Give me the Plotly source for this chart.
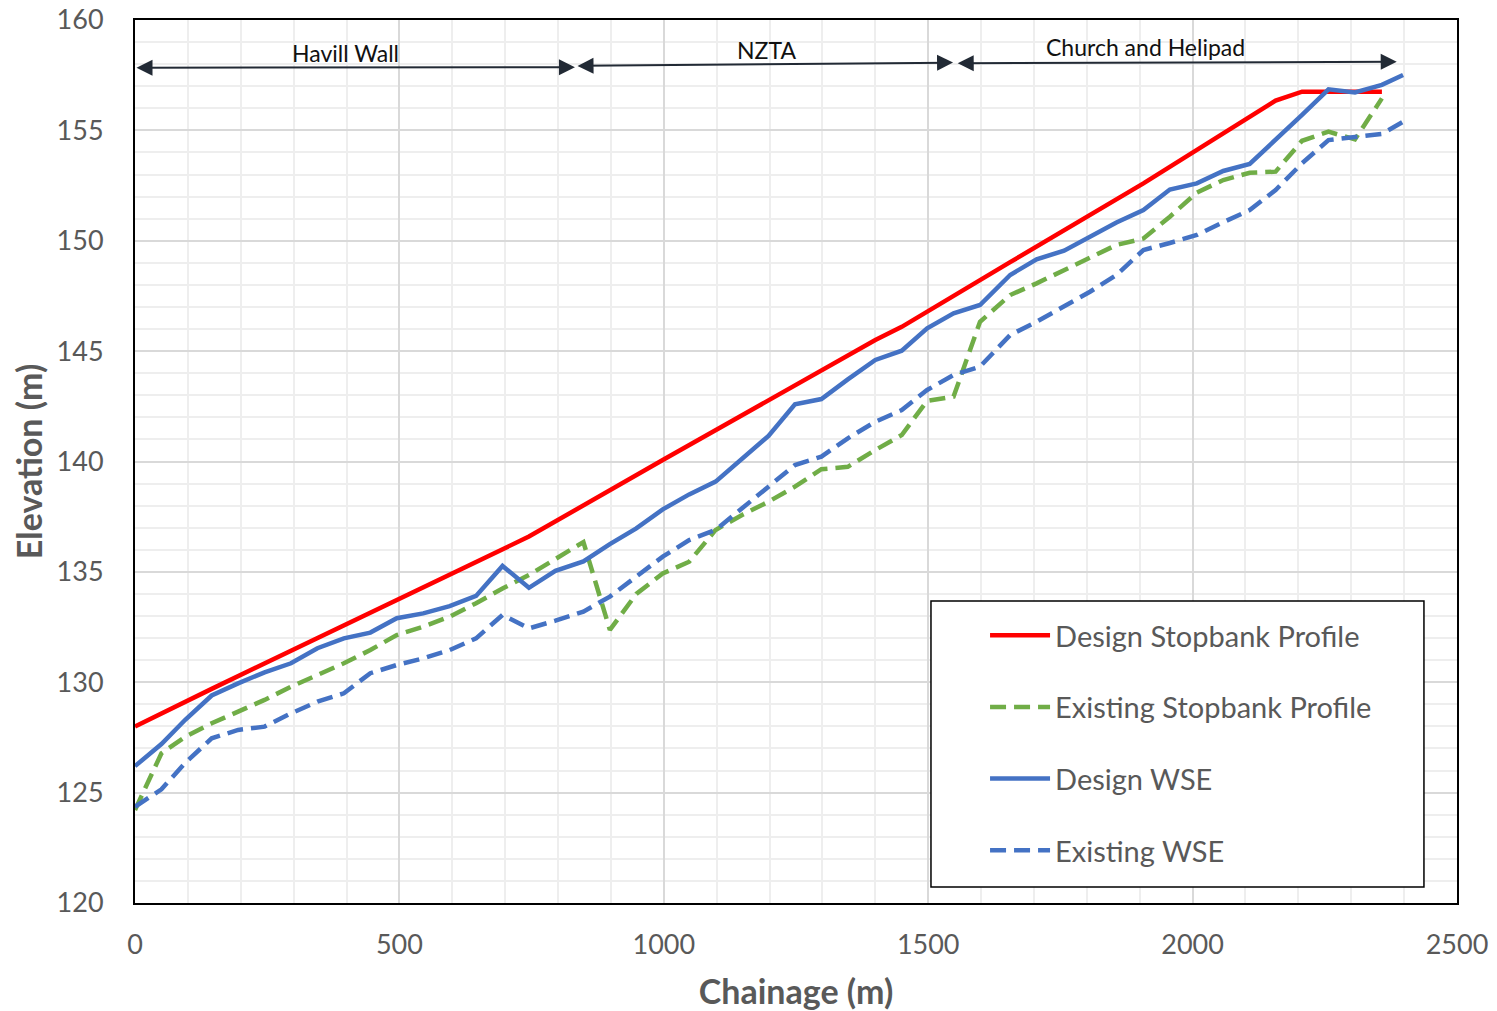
import plotly.graph_objects as go

# ---------------- data ----------------
chainage = [0, 50, 95, 145, 195, 245, 295, 345, 395, 445,
            495, 545, 595, 645, 695, 745, 795, 848, 898, 948,
            998, 1048, 1098, 1148, 1198, 1248, 1298, 1348, 1400, 1450,
            1498, 1548, 1598, 1655, 1705, 1757, 1806, 1856, 1907, 1957,
            2008, 2058, 2108, 2157, 2207, 2257, 2307, 2358, 2398]

design_wse = [126.2, 127.2, 128.3, 129.4, 129.95, 130.45, 130.86, 131.54, 131.99, 132.25,
              132.9, 133.12, 133.45, 133.91, 135.27, 134.28, 135.05, 135.47, 136.26, 136.97,
              137.83, 138.51, 139.09, 140.14, 141.16, 142.59, 142.83, 143.72, 144.6, 145.02,
              146.03, 146.71, 147.09, 148.45, 149.16, 149.55, 150.18, 150.83, 151.39, 152.32,
              152.6, 153.16, 153.48, 154.56, 155.7, 156.86, 156.72, 157.06, 157.51]

existing_stopbank = [124.21, 126.78, 127.53, 128.14, 128.67, 129.2, 129.8, 130.33, 130.86, 131.46,
                     132.14, 132.52, 132.97, 133.58, 134.25, 134.86, 135.61, 136.35, 132.37, 134.0,
                     134.93, 135.46, 136.9, 137.58, 138.18, 138.86, 139.65, 139.76, 140.52, 141.2,
                     142.75, 142.94, 146.33, 147.54, 148.07, 148.67, 149.2, 149.81, 150.1, 151.09,
                     152.18, 152.75, 153.08, 153.13, 154.53, 154.94, 154.59, 156.45, None]

existing_wse = [124.36, 125.15, 126.35, 127.46, 127.84, 127.99, 128.59, 129.12, 129.5, 130.41,
                130.78, 131.08, 131.46, 131.99, 133.05, 132.44, 132.79, 133.2, 133.88, 134.78,
                135.69, 136.44, 136.9, 137.88, 138.86, 139.84, 140.22, 141.05, 141.8, 142.33,
                143.24, 143.92, 144.3, 145.73, 146.33, 147.01, 147.69, 148.45, 149.58, 149.9,
                150.26, 150.84, 151.39, 152.3, 153.51, 154.56, 154.69, 154.84, 155.39]

design_stopbank_ch = [0, 145, 745, 998, 1400, 1450, 1655, 1907, 2157, 2207, 2358]
design_stopbank = [128.0, 129.7, 136.6, 140.07, 145.5, 146.1, 149.03, 152.6, 156.35, 156.75, 156.75]

zone_names = ["Havill Wall", "NZTA", "Church and Helipad"]
zone_start = [0, 834, 1553]
zone_end = [832, 1547, 2386]
zone_arrow_y0 = [157.84, 157.92, 158.04]
zone_arrow_y1 = [157.86, 158.07, 158.11]
zone_label_x = [399, 1195, 1910]
zone_label_y = [158.5, 158.64, 158.78]

# ---------------- styling ----------------
FONT = "Lato"
GREY = "#595959"
RED = "#FF0000"
GREEN = "#70AD47"
BLUE = "#4472C4"
ARROW = "#222A35"

fig = go.Figure()
fig.add_trace(go.Scatter(x=design_stopbank_ch, y=design_stopbank, mode="lines",
                         name="Design Stopbank Profile", legendgroup="a",
                         line=dict(color=RED, width=4.5)))
fig.add_trace(go.Scatter(x=chainage, y=existing_stopbank, mode="lines",
                         name="Existing Stopbank Profile", legendgroup="b",
                         line=dict(color=GREEN, width=4.5, dash="16px,8px")))
fig.add_trace(go.Scatter(x=chainage, y=design_wse, mode="lines",
                         name="Design WSE", legendgroup="c",
                         line=dict(color=BLUE, width=4.5)))
fig.add_trace(go.Scatter(x=chainage, y=existing_wse, mode="lines",
                         name="Existing WSE", legendgroup="d",
                         line=dict(color=BLUE, width=4.5, dash="16px,8px")))

annotations = []
for name, xs, xe, ys, ye, lx, ly in zip(zone_names, zone_start, zone_end,
                                         zone_arrow_y0, zone_arrow_y1,
                                         zone_label_x, zone_label_y):
    annotations.append(dict(x=xe, y=ye, ax=xs, ay=ys, xref="x", yref="y",
                            axref="x", ayref="y", text="", showarrow=True,
                            arrowhead=2, startarrowhead=2, arrowside="end+start",
                            arrowsize=1.6, startarrowsize=1.6, arrowwidth=2,
                            arrowcolor=ARROW, standoff=0, startstandoff=0))
    annotations.append(dict(x=lx, y=ly, xref="x", yref="y", text=name,
                            showarrow=False, font=dict(family=FONT, size=23, color="#111111")))

grid_minor = "#EEEEEE"
grid_major = "#D9D9D9"

fig.update_layout(
    width=1497, height=1011,
    margin=dict(l=135, r=40, t=20, b=108, autoexpand=False),
    paper_bgcolor="white", plot_bgcolor="white",
    font=dict(family=FONT, color=GREY),
    showlegend=True,
    legend=dict(x=0.643, y=0.332, xanchor="left", yanchor="top",
                bgcolor="rgba(0,0,0,0)", borderwidth=0,
                font=dict(family=FONT, size=29, color=GREY),
                itemwidth=60, traceorder="grouped", tracegroupgap=31),
    shapes=[dict(type="rect", xref="paper", yref="paper",
                 x0=0.6021, x1=0.975, y0=0.0181, y1=0.342,
                 line=dict(color="black", width=1.5), fillcolor="white", layer="above")],
    annotations=annotations,
    xaxis=dict(range=[0, 2500], dtick=500, tick0=0,
               showgrid=True, gridcolor=grid_major, gridwidth=1.5,
               minor=dict(dtick=100, showgrid=True, gridcolor=grid_minor, gridwidth=1.5),
               showline=True, linecolor="black", linewidth=2, mirror=True,
               zeroline=False, ticks="", ticklabelstandoff=17,
               tickfont=dict(family=FONT, size=27, color=GREY),
               title=dict(text="<b>Chainage (m)</b>", standoff=21,
                          font=dict(family=FONT, size=34, color=GREY))),
    yaxis=dict(range=[120, 160], dtick=5, tick0=120,
               showgrid=True, gridcolor=grid_major, gridwidth=1.5,
               minor=dict(dtick=1, showgrid=True, gridcolor=grid_minor, gridwidth=1.5),
               showline=True, linecolor="black", linewidth=2, mirror=True,
               zeroline=False, ticks="", ticklabelstandoff=24,
               tickfont=dict(family=FONT, size=27, color=GREY),
               title=dict(text="<b>Elevation (m)</b>", standoff=4,
                          font=dict(family=FONT, size=34, color=GREY))),
)

fig.write_html("out.html",
               config={"displayModeBar": False},
               post_script="document.body.style.margin='0';document.body.style.overflow='hidden';")
